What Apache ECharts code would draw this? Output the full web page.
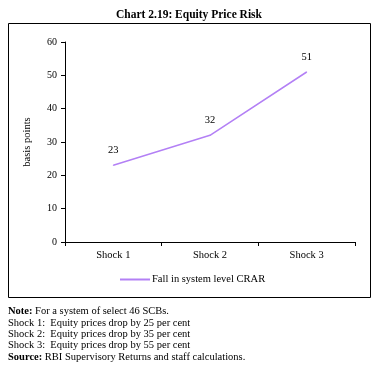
<!DOCTYPE html>
<html>
<head>
<meta charset="utf-8">
<script src="https://cdn.jsdelivr.net/npm/echarts@6/dist/echarts.min.js"></script>
<style>
  html, body { margin: 0; padding: 0; background: #fff; }
  #chart { width: 378px; height: 377px; }
</style>
</head>
<body>
<div id="chart"></div>
<script>
var categories = ['Shock 1', 'Shock 2', 'Shock 3'];
var crarFall = [23, 32, 51];
var seriesName = 'Fall in system level CRAR';
var noteLines = [
  ['Note:', ' For a system of select 46 SCBs.'],
  ['', 'Shock 1:  Equity prices drop by 25 per cent'],
  ['', 'Shock 2:  Equity prices drop by 35 per cent'],
  ['', 'Shock 3:  Equity prices drop by 55 per cent'],
  ['Source:', ' RBI Supervisory Returns and staff calculations.']
];

var font = 'Liberation Serif';
var chart = echarts.init(document.getElementById('chart'));

var notes = noteLines.map(function (l, i) {
  return {
    type: 'text',
    left: 8,
    top: 306 + i * 11.4,
    style: {
      rich: { b: { fontWeight: 'bold', fontFamily: font, fontSize: 10.5, fill: '#000' } },
      text: (l[0] ? '{b|' + l[0] + '}' : '') + l[1],
      fontFamily: font,
      fontSize: 10.5,
      fill: '#000'
    }
  };
});

chart.setOption({
  animation: false,
  textStyle: { fontFamily: font },
  title: {
    text: 'Chart 2.19: Equity Price Risk',
    left: 'center',
    top: 4,
    textStyle: { fontSize: 11.5, fontWeight: 'bold', color: '#000', fontFamily: font }
  },
  grid: { left: 65, right: 23, top: 42, bottom: 135 },
  legend: {
    data: [seriesName],
    top: 269,
    left: 115,
    itemWidth: 30,
    itemHeight: 2,
    icon: 'rect',
    itemGap: 2,
    itemStyle: { color: '#b380f5', opacity: 1 },
    textStyle: { fontSize: 10.5, color: '#000', fontFamily: font, padding: [0, 0, 0, -3] }
  },
  xAxis: {
    type: 'category',
    data: categories,
    boundaryGap: true,
    axisLine: { lineStyle: { color: '#000', width: 1 } },
    axisTick: { show: true, length: 4, lineStyle: { color: '#000' } },
    axisLabel: { color: '#000', fontSize: 10.5, margin: 8, fontFamily: font }
  },
  yAxis: {
    type: 'value',
    min: 0,
    max: 60,
    interval: 10,
    name: 'basis points',
    nameLocation: 'middle',
    nameGap: 32,
    nameTextStyle: { fontSize: 10.5, color: '#000', fontFamily: font },
    splitLine: { show: false },
    axisLine: { show: true, lineStyle: { color: '#000', width: 1 } },
    axisTick: { show: true, length: 4, lineStyle: { color: '#000' } },
    axisLabel: { color: '#000', fontSize: 10, margin: 8, fontFamily: font }
  },
  series: [{
    name: seriesName,
    type: 'line',
    data: crarFall,
    symbol: 'circle',
    symbolSize: 1,
    showSymbol: true,
    lineStyle: { color: '#b380f5', width: 1.5 },
    itemStyle: { color: '#b380f5' },
    label: {
      show: true,
      position: 'top',
      distance: 9,
      color: '#000',
      fontSize: 10.5,
      fontFamily: font
    }
  }],
  graphic: [{
    type: 'rect',
    shape: { x: 8.5, y: 23.5, width: 362, height: 274 },
    style: { fill: 'none', stroke: '#000', lineWidth: 1 },
    silent: true
  }].concat(notes)
});
</script>
</body>
</html>
